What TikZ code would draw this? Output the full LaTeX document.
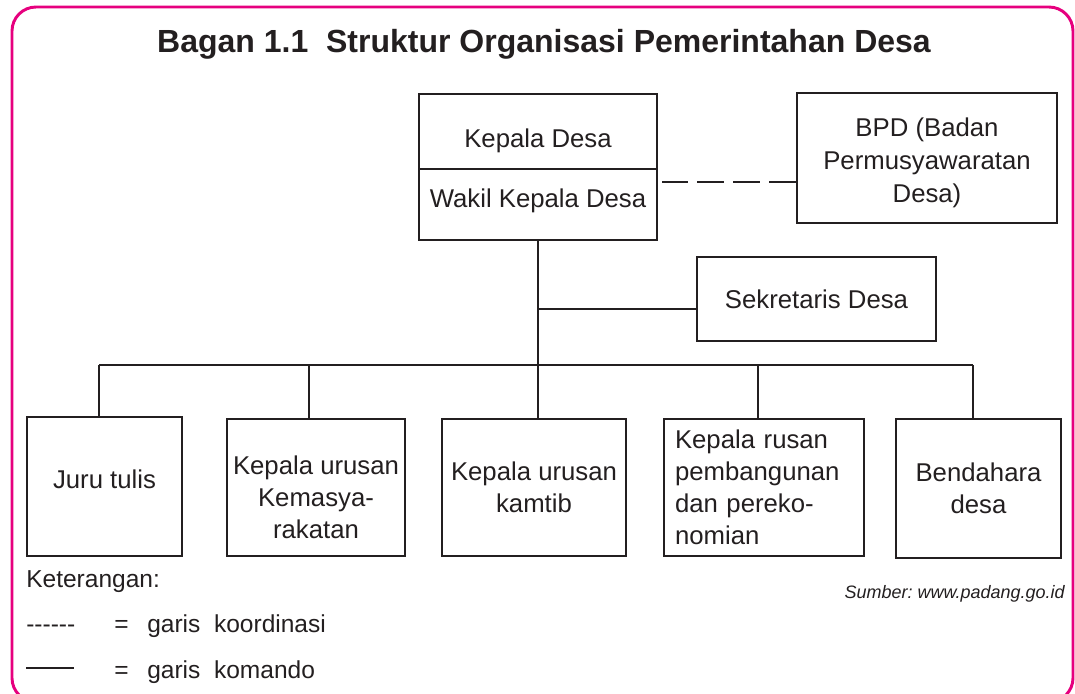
\documentclass[tikz,border=0pt]{standalone}
\usepackage{fontspec}
\setmainfont{Liberation Sans}
\usetikzlibrary{positioning}
\definecolor{bagpink}{RGB}{230,0,126}
\definecolor{ink}{RGB}{35,31,32}

\begin{document}
\begin{tikzpicture}[x=0.75pt,y=-0.75pt,
    box/.style={draw=ink,line width=1.8pt,align=center,inner sep=0pt,text=ink,
      font=\fontsize{19.3}{24}\selectfont},
    link/.style={draw=ink,line width=1.8pt},
    note/.style={anchor=base west,inner sep=0pt,text=ink,font=\fontsize{18.4}{22}\selectfont}]
  \useasboundingbox (0,0) rectangle (1075,693);
  \draw[bagpink,line width=2.2pt,rounded corners=18pt] (12,7) rectangle (1073,702);
  \node[anchor=base,inner sep=0pt,text=ink,font=\fontsize{24}{28}\selectfont\bfseries] (title) at (544,52)
    {Bagan 1.1\ \ Struktur Organisasi Pemerintahan Desa};

  % pimpinan
  \node[box,minimum width=178.5pt,minimum height=56.25pt,text height=27.5pt,text depth=4pt] (kepala) at (538,131.5)
    {Kepala Desa};
  \node[box,minimum width=178.5pt,minimum height=53.25pt,text height=14pt,text depth=10pt] (wakil) at (538,204.5)
    {Wakil Kepala Desa};
  \node[box,minimum width=195pt,minimum height=97.5pt,text height=71pt,font=\fontsize{19.3}{25}\selectfont] (bpd)
    at (927,158) {BPD (Badan\\Permusyawaratan\\Desa)};
  \node[box,minimum width=179.25pt,minimum height=63pt] (sekr) at (816.5,299) {Sekretaris Desa};

  % perangkat
  \node[box,minimum width=116.25pt,minimum height=104.25pt,text height=14pt,text depth=11.5pt] (juru)
    at (104.5,486.5) {Juru tulis};
  \node[box,minimum width=133.5pt,minimum height=102.75pt,text height=77pt] (kemas) at (316,487.5)
    {Kepala urusan\\Kemasya-\\rakatan};
  \node[box,minimum width=138pt,minimum height=102.75pt] (kamtib) at (534,487.5) {Kepala urusan\\kamtib};
  \node[box,align=left,text width=133.5pt,inner xsep=8.25pt,minimum height=102.75pt] (bang) at (764,487.5)
    {Kepala rusan\\pembangunan\\dan pereko-\\nomian};
  \node[box,minimum width=123.75pt,minimum height=104.25pt] (benda) at (978.5,488.5) {Bendahara\\desa};

  % garis komando
  \coordinate (b1) at (99,365);
  \coordinate (b2) at (309,365);
  \coordinate (b3) at (538,365);
  \coordinate (b4) at (758,365);
  \coordinate (b5) at (973,365);
  \coordinate (sk) at (538,309);
  \draw[link] (wakil.south) -- (b3);
  \draw[link] (b1) -- (b5);
  \foreach \b/\n in {b1/juru,b2/kemas,b3/kamtib,b4/bang,b5/benda}
    \draw[link] (\b) -- (\b |- \n.north);
  \draw[link] (sk) -- (sk -| sekr.west);

  % garis koordinasi
  \coordinate (dk) at (662,182);
  \draw[link,dash pattern=on 20pt off 7pt] (dk -| bpd.west) -- (dk);

  % keterangan
  \node[note] (ket) at (26,587) {Keterangan:};
  \node[note] (koor) at (26,632) {-{}-{}-{}-{}-{}-};
  \node[note] (eq1) at (114,632) {=};
  \node[note] (koortxt) at (147,632) {garis\ \ koordinasi};
  \coordinate (sa) at (26,668);
  \coordinate (sb) at (74,668);
  \draw[link,line width=2pt] (sa) -- (sb);
  \node[note] (eq2) at (114,678) {=};
  \node[note] (komtxt) at (147,678) {garis\ \ komando};
  \node[anchor=base east,inner sep=0pt,text=ink,font=\fontsize{13.5}{16}\selectfont\itshape] (sumber) at (1065,598)
    {Sumber:\ www.padang.go.id};
\end{tikzpicture}
\end{document}
